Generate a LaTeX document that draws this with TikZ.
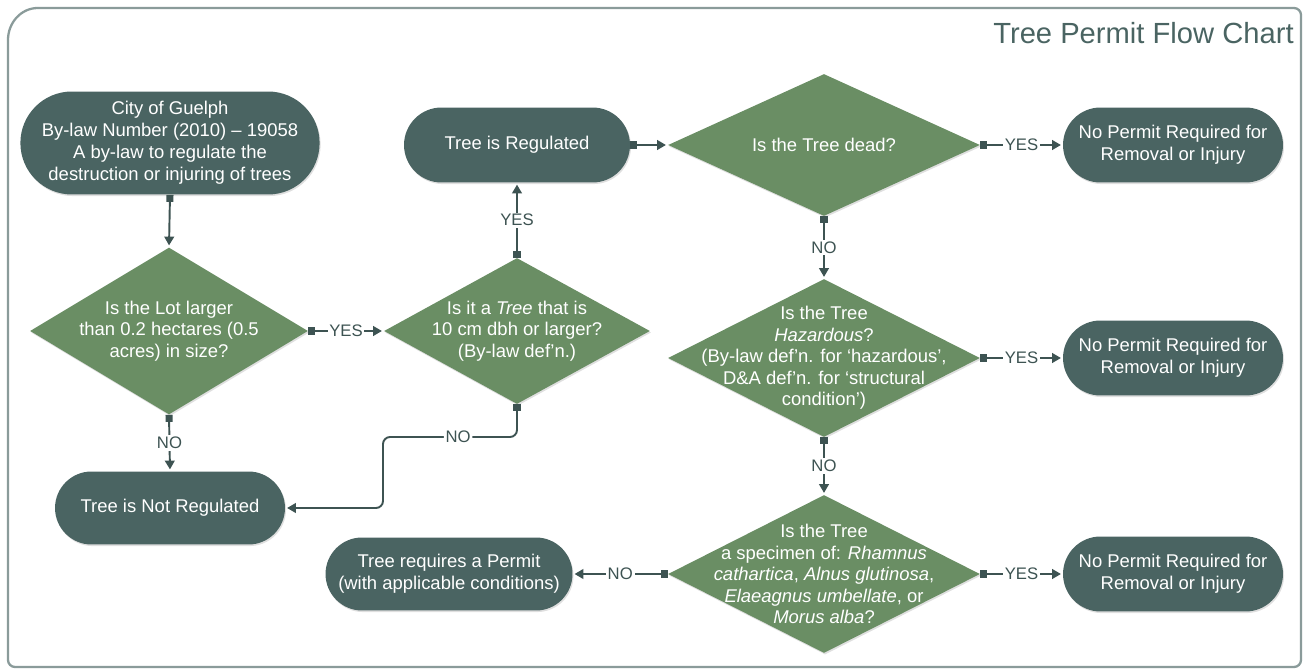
\documentclass[tikz,border=0pt]{standalone}
\usepackage{fontspec}
\setmainfont{Liberation Sans}
\usetikzlibrary{shapes.misc,shapes.geometric,arrows.meta,shadows}
\definecolor{slate}{HTML}{4A6462}
\definecolor{leaf}{HTML}{6A8E64}
\definecolor{wire}{HTML}{3D5352}
\definecolor{framec}{HTML}{8A9B9A}
\begin{document}
\begin{tikzpicture}[x=0.02cm,y=-0.02cm,
 term/.style={rounded rectangle, fill=slate, text=white, align=center, inner sep=0pt,
   font=\fontsize{10.5}{12.6}\selectfont,
   drop shadow={opacity=0.25,shadow xshift=0.6pt,shadow yshift=-0.9pt}},
 dec/.style={diamond, fill=leaf, inner sep=0pt,
   drop shadow={opacity=0.25,shadow xshift=0.6pt,shadow yshift=-0.9pt}},
 dtxt/.style={text=white, align=center, inner sep=0pt, font=\fontsize{10.5}{12.2}\selectfont},
 conn/.style={draw=wire, line width=1.1pt, shorten >=1pt,
   {Square[length=4pt,width=4pt]}-{Triangle[length=5pt,width=5.5pt]}},
 lbl/.style={fill=white, inner sep=1pt, text=wire, font=\fontsize{9.5}{10}\selectfont},
 framel/.style={draw=framec, line width=1.3pt, line cap=round}
]
\useasboundingbox (0,0) rectangle (1304,671);
% frame
\draw[framel, rounded corners=4pt] (8,40) -- (8,667) -- (1301,667) -- (1301,8) -- (38,8);
\draw[framel] (38,8) to[out=180,in=90] (8,40);
\node[anchor=east, text=slate, font=\fontsize{16.6}{19}\selectfont, inner sep=0pt] (title) at (1294,33) {Tree Permit Flow Chart};

% nodes
\node[term, minimum width=5.72cm, minimum height=2.06cm] (city) at (170,143)
  {City of Guelph\\By-law Number (2010) – 19058\\A by-law to regulate the\\destruction or injuring of trees};
\node[dec, minimum width=5.56cm, minimum height=3.34cm] (lot) at (169,331) {};
\node[dtxt] (lotT) at (lot) {Is the Lot larger\\than 0.2 hectares (0.5\\acres) in size?};
\node[term, minimum width=4.6cm, minimum height=1.46cm] (notreg) at (170,508) {Tree is Not Regulated};
\node[dec, minimum width=5.32cm, minimum height=2.92cm] (treeq) at (517,331) {};
\node[dtxt] (treeqT) at (treeq) {Is it a \textit{Tree} that is\\10 cm dbh or larger?\\(By-law def’n.)};
\node[term, minimum width=4.52cm, minimum height=1.5cm] (reg) at (517,145) {Tree is Regulated};
\node[dec, minimum width=6.24cm, minimum height=2.84cm] (dead) at (824,145) {};
\node[dtxt] (deadT) at (dead) {Is the Tree dead?};
\node[term, minimum width=4.4cm, minimum height=1.5cm] (np1) at (1173,145) {No Permit Required for\\Removal or Injury};
\node[dec, minimum width=6.24cm, minimum height=3.16cm] (haz) at (824,358) {};
\node[dtxt] (hazT) at (haz) {Is the Tree\\\textit{Hazardous}?\\(By-law def’n. for ‘hazardous’,\\D\&A def’n. for ‘structural\\condition’)};
\node[term, minimum width=4.4cm, minimum height=1.5cm] (np2) at (1173,358) {No Permit Required for\\Removal or Injury};
\node[dec, minimum width=6.24cm, minimum height=3.16cm] (spec) at (824,574) {};
\node[dtxt] (specT) at (spec) {Is the Tree\\a specimen of: \textit{Rhamnus}\\\textit{cathartica}, \textit{Alnus glutinosa},\\\textit{Elaeagnus umbellate}, or\\\textit{Morus alba}?};
\node[term, minimum width=4.4cm, minimum height=1.5cm] (np3) at (1173,574) {No Permit Required for\\Removal or Injury};
\node[term, minimum width=4.94cm, minimum height=1.46cm] (permit) at (449,574) {Tree requires a Permit\\(with applicable conditions)};
\coordinate (bendA) at (383,437);

% connectors
\draw[conn] (city.south) -- (lot.north);
\draw[conn] (lot.east) -- node[lbl]{YES} (treeq.west);
\draw[conn] (lot.south) -- node[lbl]{NO} (notreg.north);
\draw[conn] (treeq.north) -- node[lbl]{YES} (reg.south);
\draw[conn, rounded corners=4pt] (treeq.south) |- node[lbl, pos=0.72]{NO} (bendA) |- (notreg.east);
\draw[conn] (reg.east) -- (dead.west);
\draw[conn] (dead.east) -- node[lbl]{YES} (np1.west);
\draw[conn] (dead.south) -- node[lbl]{NO} (haz.north);
\draw[conn] (haz.east) -- node[lbl]{YES} (np2.west);
\draw[conn] (haz.south) -- node[lbl]{NO} (spec.north);
\draw[conn] (spec.east) -- node[lbl]{YES} (np3.west);
\draw[conn] (spec.west) -- node[lbl]{NO} (permit.east);
\end{tikzpicture}
\end{document}
